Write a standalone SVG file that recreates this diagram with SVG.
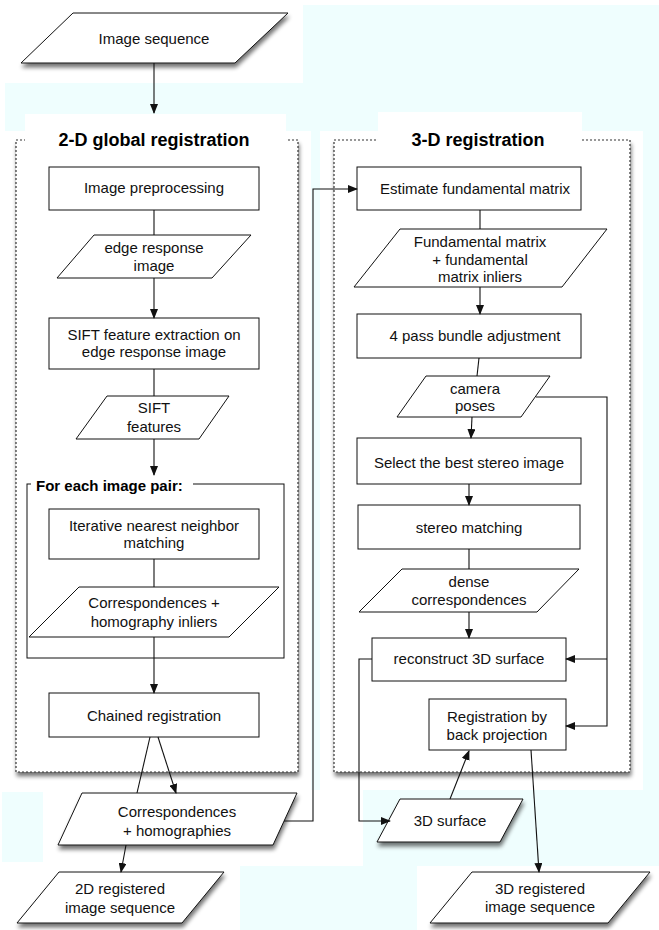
<svg xmlns="http://www.w3.org/2000/svg" width="659" height="930" viewBox="0 0 659 930">
<defs>
<style>
.t{font-family:"Liberation Sans",Arial,Helvetica,sans-serif;font-size:15px;fill:#111;text-anchor:middle}
.tb{font-family:"Liberation Sans",Arial,Helvetica,sans-serif;font-weight:bold;fill:#000}
.box{fill:#fff;stroke:#111;stroke-width:1}
.panel{fill:#fff;stroke:#333;stroke-width:1.2;stroke-dasharray:2 2}
.c{fill:none;stroke:#111;stroke-width:1.1}
.ca{fill:none;stroke:#111;stroke-width:1.1;marker-end:url(#ah)}
.cy{fill:#effefe}
.wh{fill:#fff}
</style>
<marker id="ah" markerWidth="10" markerHeight="8" refX="9" refY="4" orient="auto" markerUnits="userSpaceOnUse"><path d="M0,0 L10,4 L0,8 z" fill="#111"/></marker>
<filter id="sh" x="-10%" y="-10%" width="125%" height="140%">
<feGaussianBlur in="SourceAlpha" stdDeviation="2.2"/>
<feOffset dx="1" dy="4"/>
<feComponentTransfer><feFuncA type="linear" slope="0.55"/></feComponentTransfer>
<feMerge><feMergeNode/><feMergeNode in="SourceGraphic"/></feMerge>
</filter>
</defs>

<g id="background">
<rect x="0" y="0" width="659" height="930" fill="#fff"/>
<rect class="cy" x="5" y="5" width="654" height="126"/>
<rect class="cy" x="311" y="131" width="9" height="659"/>
<rect class="cy" x="643" y="131" width="16" height="735"/>
<rect class="cy" x="363" y="790" width="280" height="76"/>
<rect class="cy" x="2" y="792" width="41" height="70"/>
<rect class="cy" x="240" y="866" width="177" height="64"/>
<rect class="wh" x="5" y="5" width="298" height="78"/>
</g>

<g id="panel-2d">
<rect class="panel" x="16" y="140" width="282" height="632" filter="url(#sh)"/>
<rect class="wh" x="25" y="114" width="261" height="36"/>
<text class="tb" x="154" y="146" font-size="18" text-anchor="middle">2-D global registration</text>
</g>

<g id="panel-3d">
<rect class="panel" x="334" y="140" width="296" height="632" filter="url(#sh)"/>
<rect class="wh" x="378" y="112" width="204" height="38"/>
<text class="tb" x="478" y="146" font-size="18" text-anchor="middle">3-D registration</text>
</g>

<g id="group-pair">
<rect x="27" y="484" width="257" height="174" fill="none" stroke="#111" stroke-width="1"/>
<rect class="wh" x="31" y="476" width="162" height="18"/>
<text class="tb" x="36" y="491" font-size="15">For each image pair:</text>
</g>

<g id="image-sequence">
<polygon class="box" points="73,13 288,13 235,63 21,63" filter="url(#sh)"/>
<text class="t" x="154" y="44">Image sequence</text>
</g>

<g id="image-preprocessing">
<rect class="box" x="49" y="167" width="210" height="43"/>
<text class="t" x="154" y="193">Image preprocessing</text>
</g>

<g id="edge-response-image">
<polygon class="box" points="94,235 251,235 212,278 57,278"/>
<text class="t" x="154" y="253">edge response</text>
<text class="t" x="154" y="271">image</text>
</g>

<g id="sift-extraction">
<rect class="box" x="49" y="318" width="210" height="51"/>
<text class="t" x="154" y="340">SIFT feature extraction on</text>
<text class="t" x="154" y="357">edge response image</text>
</g>

<g id="sift-features">
<polygon class="box" points="107,396 229,396 199,439 76,439"/>
<text class="t" x="154" y="413">SIFT</text>
<text class="t" x="154" y="432">features</text>
</g>

<g id="iterative-matching">
<rect class="box" x="49" y="509" width="210" height="50"/>
<text class="t" x="154" y="531">Iterative nearest neighbor</text>
<text class="t" x="154" y="548">matching</text>
</g>

<g id="corr-homography-inliers">
<polygon class="box" points="79,587 279,587 229,637 29,637"/>
<text class="t" x="154" y="608">Correspondences +</text>
<text class="t" x="154" y="627">homography inliers</text>
</g>

<g id="chained-registration">
<rect class="box" x="49" y="693" width="210" height="44"/>
<text class="t" x="154" y="721">Chained registration</text>
</g>

<g id="corr-homographies">
<polygon class="box" points="82,793 297,793 273,845 58,845" filter="url(#sh)"/>
<text class="t" x="177" y="817">Correspondences</text>
<text class="t" x="177" y="836">+ homographies</text>
</g>

<g id="registered-2d">
<polygon class="box" points="59,872 224,872 182,923 17,923" filter="url(#sh)"/>
<text class="t" x="120" y="894">2D registered</text>
<text class="t" x="120" y="913">image sequence</text>
</g>

<g id="estimate-fundamental">
<rect class="box" x="357" y="167" width="224" height="43"/>
<text class="t" x="475" y="194">Estimate fundamental matrix</text>
</g>

<g id="fundamental-matrix">
<polygon class="box" points="400,229 607,229 562,287 354,287"/>
<text class="t" x="480" y="247">Fundamental matrix</text>
<text class="t" x="480" y="265">+ fundamental</text>
<text class="t" x="480" y="282">matrix inliers</text>
</g>

<g id="bundle-adjustment">
<rect class="box" x="357" y="314" width="224" height="44"/>
<text class="t" x="475" y="341">4 pass bundle adjustment</text>
</g>

<g id="camera-poses">
<polygon class="box" points="426,376 550,376 521,417 397,417"/>
<text class="t" x="475" y="394">camera</text>
<text class="t" x="475" y="411">poses</text>
</g>

<g id="select-stereo">
<rect class="box" x="357" y="438" width="224" height="46"/>
<text class="t" x="469" y="468">Select the best stereo image</text>
</g>

<g id="stereo-matching">
<rect class="box" x="358" y="505" width="222" height="44"/>
<text class="t" x="469" y="533">stereo matching</text>
</g>

<g id="dense-correspondences">
<polygon class="box" points="402,569 579,569 537,612 359,612"/>
<text class="t" x="469" y="587">dense</text>
<text class="t" x="469" y="605">correspondences</text>
</g>

<g id="reconstruct-surface">
<rect class="box" x="372" y="638" width="194" height="43"/>
<text class="t" x="469" y="664">reconstruct 3D surface</text>
</g>

<g id="back-projection">
<rect class="box" x="429" y="699" width="137" height="51"/>
<text class="t" x="497" y="722">Registration by</text>
<text class="t" x="497" y="740">back projection</text>
</g>

<g id="surface-3d">
<polygon class="box" points="400,799 523,799 500,842 377,842" filter="url(#sh)"/>
<text class="t" x="450" y="826">3D surface</text>
</g>

<g id="registered-3d">
<polygon class="box" points="472,872 650,872 608,923 430,923" filter="url(#sh)"/>
<text class="t" x="540" y="894">3D registered</text>
<text class="t" x="540" y="912">image sequence</text>
</g>

<g id="connectors">
<line class="ca" x1="154" y1="63" x2="154" y2="113"/>
<line class="c" x1="154" y1="210" x2="154" y2="235"/>
<line class="ca" x1="154" y1="278" x2="154" y2="318"/>
<line class="c" x1="154" y1="369" x2="154" y2="396"/>
<line class="ca" x1="154" y1="439" x2="154" y2="475"/>
<line class="c" x1="154" y1="559" x2="154" y2="587"/>
<line class="ca" x1="154" y1="637" x2="154" y2="693"/>
<line class="c" x1="150" y1="737" x2="137" y2="793"/>
<line class="ca" x1="158" y1="737" x2="176" y2="793"/>
<line class="ca" x1="126" y1="845" x2="121" y2="872"/>
<polyline class="ca" points="284,821 313,821 313,189 357,189"/>
<line class="c" x1="480" y1="210" x2="480" y2="229"/>
<line class="ca" x1="480" y1="287" x2="480" y2="314"/>
<line class="c" x1="479" y1="358" x2="477" y2="376"/>
<line class="ca" x1="472" y1="417" x2="471" y2="438"/>
<polyline class="ca" points="536,397 607,397 607,726 566,726"/>
<line class="ca" x1="607" y1="659" x2="566" y2="659"/>
<line class="ca" x1="469" y1="484" x2="469" y2="505"/>
<line class="c" x1="469" y1="549" x2="469" y2="569"/>
<line class="ca" x1="469" y1="612" x2="469" y2="638"/>
<polyline class="ca" points="372,659 359,659 359,821 390,821"/>
<line class="ca" x1="450" y1="799" x2="469" y2="751"/>
<line class="ca" x1="531" y1="750" x2="539" y2="872"/>
</g>
</svg>
